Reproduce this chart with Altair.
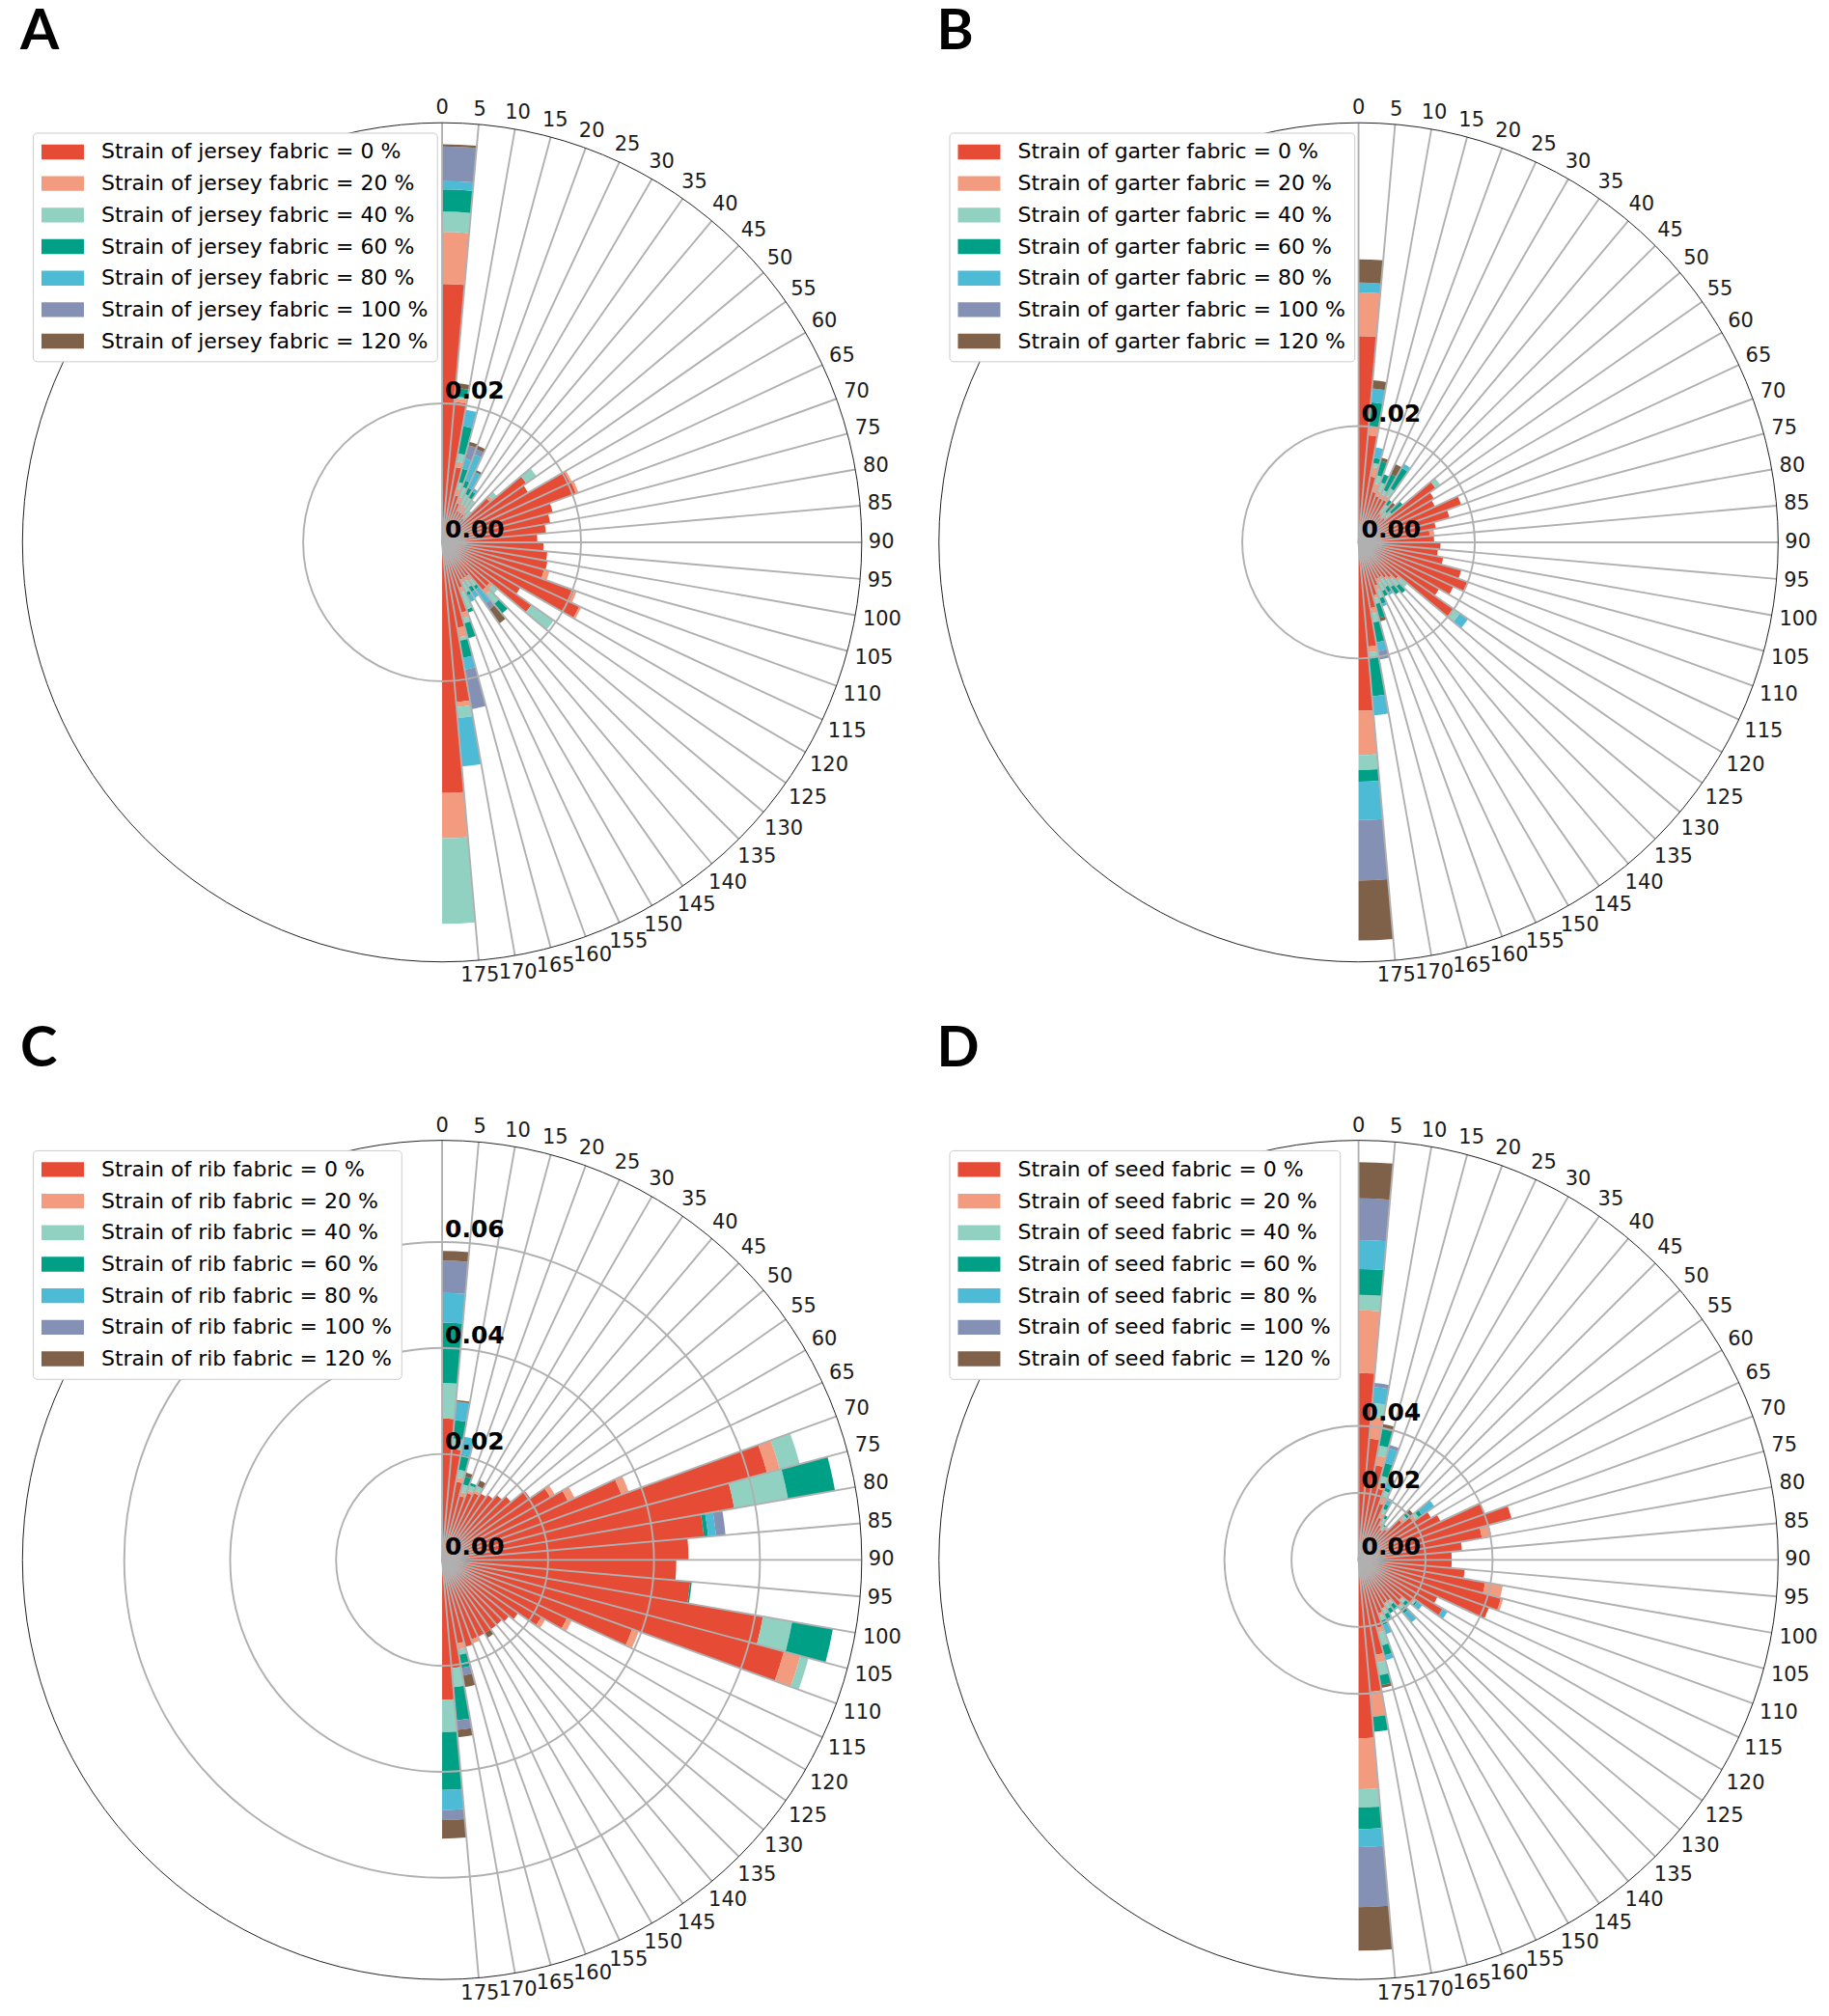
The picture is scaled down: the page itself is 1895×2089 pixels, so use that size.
import altair as alt
import numpy as np
import pandas as pd

# ---------------- data (values in units of 10^-3) ----------------
BIN_STARTS = list(range(0, 180, 5))      # bin start angle, degrees
BIN_WIDTH = 5
TICK_ANGLES = list(range(0, 180, 5))
STRAINS = [0, 20, 40, 60, 80, 100, 120]
COLORS = ["#E64B35", "#F39B7F", "#91D1C2", "#00A087", "#4DBBD5", "#8491B4", "#7E6148"]

JERSEY_0 = [37.2, 20.3, 11.0, 7.0, 6.0, 5.0, 5.0, 5.0, 4.5, 9.0, 14.8, 14.3, 20.3, 20.5, 16.5, 15.8, 15.0, 13.7,
            14.6, 15.2, 15.4, 15.2, 20.2, 21.8, 13.0, 15.7, 9.0, 9.0, 6.0, 6.0, 6.0, 7.0, 10.5, 12.5, 23.1, 36.1]
JERSEY_20 = [7.5, 0.5, 0.8, 1.0, 1.0, 1.2, 1.0, 0.5, 0.5, 0.5, 0, 0, 0.3, 0.4, 0, 0, 0, 0,
             0, 0, 0, 0.8, 0.4, 0.3, 0, 0, 0.5, 0.8, 0.8, 0.5, 0.5, 0.8, 0.8, 1.4, 0.7, 6.5]
JERSEY_40 = [2.9, 0.3, 1.2, 1.0, 1.5, 1.5, 1.5, 2.0, 1.0, 0.8, 1.8, 0, 0, 0, 0, 0, 0, 0,
             0, 0, 0, 0, 0, 0, 0, 3.9, 1.0, 1.8, 1.0, 1.0, 1.5, 2.5, 0.8, 0.5, 1.6, 12.3]
JERSEY_60 = [3.2, 1.2, 4.0, 2.0, 1.0, 1.0, 1.0, 0, 0, 0, 0, 0, 0, 0, 0, 0, 0, 0,
             0, 0, 0, 0, 0, 0, 0, 0, 0, 1.8, 0.5, 0.8, 0.5, 0.5, 2.2, 2.5, 0, 0]
JERSEY_80 = [1.2, 0, 2.4, 1.5, 4.0, 2.5, 0.5, 0, 0, 0, 0, 0, 0, 0, 0, 0, 0, 0,
             0, 0, 0, 0, 0, 0, 0, 0, 0, 0, 2.5, 1.0, 1.0, 0, 0, 1.7, 7.0, 0]
JERSEY_100 = [5.0, 0, 0, 2.0, 0.8, 0, 0, 0, 0, 0, 0, 0, 0, 0, 0, 0, 0, 0,
              0, 0, 0, 0, 0, 0, 0, 0, 0, 0, 1.0, 0, 0, 0, 0, 5.8, 0, 0]
JERSEY_120 = [0.3, 0.7, 0, 0.5, 0.5, 0.3, 0, 0, 0, 0, 0, 0, 0, 0, 0, 0, 0, 0,
              0, 0, 0, 0, 0, 0, 0, 0, 0, 0, 2.5, 0, 0, 0, 0, 0, 0, 0]

GARTER_0 = [35.5, 18.5, 11.5, 9.0, 8.5, 8.4, 8.5, 6.0, 5.5, 6.0, 16.2, 15.0, 14.5, 18.8, 16.2, 13.5, 12.3, 13.0,
            14.1, 13.7, 14.8, 18.3, 19.9, 18.0, 16.0, 19.9, 9.0, 8.0, 7.5, 7.0, 7.0, 8.0, 9.5, 11.5, 18.0, 29.0]
GARTER_20 = [7.5, 1.5, 1.7, 1.5, 1.0, 0.8, 0.8, 0.5, 0.5, 0.5, 0, 0, 0, 0, 0, 0, 0.8, 0,
             0, 0, 0, 0, 0, 0, 0, 0, 0.5, 0.5, 0.5, 0.5, 0.8, 0.8, 0.5, 1.0, 1.0, 7.6]
GARTER_40 = [0, 0, 0.7, 1.5, 1.5, 0.8, 1.5, 1.5, 1.0, 1.0, 1.0, 0, 0, 0, 0, 0, 0, 0,
             0, 0, 0, 0, 0, 0, 0, 1.4, 1.5, 1.5, 1.5, 1.5, 1.5, 1.5, 1.0, 1.5, 1.0, 2.6]
GARTER_60 = [0, 4.2, 0.9, 2.5, 1.5, 3.0, 4.0, 1.0, 1.0, 2.5, 0, 0, 0, 0, 0, 0, 0, 0,
             0, 0, 0, 0, 0, 0, 0, 0, 0, 1.5, 1.5, 1.0, 1.0, 1.0, 2.5, 3.5, 6.6, 2.0]
GARTER_80 = [1.7, 2.4, 1.8, 0, 0, 0, 0.8, 0, 0, 0, 0, 0, 0, 0, 0, 0, 0, 0,
             0, 0, 0, 0, 0, 0, 0, 1.7, 0, 0, 0, 0.5, 0, 0.5, 0, 1.5, 3.3, 6.6]
GARTER_100 = [0, 0, 0, 0, 0, 0, 0, 0, 0, 0, 0, 0, 0, 0, 0, 0, 0, 0,
              0, 0, 0, 0, 0, 0, 0, 0, 0, 0, 0, 0, 0, 0, 0, 1.5, 0, 10.4]
GARTER_120 = [4.0, 1.4, 0, 0.6, 0, 1.9, 0, 0, 1.0, 0, 0, 0, 0, 0, 0, 0, 0, 0,
              0, 0, 0, 0, 0, 0, 0, 0, 0, 0, 0, 0, 0, 0, 0.6, 0, 0, 10.3]

RIB_0 = [26.7, 21.0, 15.0, 12.5, 13.5, 14.0, 14.5, 15.0, 16.0, 17.0, 20.3, 23.6, 26.2, 36.0, 63.5, 56.0, 49.6, 46.5,
         44.2, 47.0, 61.5, 66.8, 38.2, 26.0, 21.6, 17.5, 16.5, 16.0, 16.0, 16.0, 16.0, 16.0, 17.0, 16.0, 20.5, 26.4]
RIB_20 = [0, 0, 0.8, 0.8, 0.5, 0.5, 0, 0, 0, 0, 0, 1.0, 1.4, 1.5, 2.5, 0, 0, 0,
          0, 0, 0, 3.2, 1.3, 1.0, 0.9, 0, 0, 0, 0, 0, 0, 0.8, 0, 1.2, 0, 0]
RIB_40 = [6.7, 2.0, 1.5, 1.5, 1.0, 1.0, 0, 0, 0, 0, 0, 0, 0, 0, 3.9, 10.3, 0, 0,
          0, 0, 5.6, 1.6, 0, 0, 0, 0, 0, 0, 0, 0, 0, 0, 0, 1.0, 3.6, 6.1]
RIB_60 = [11.4, 3.5, 3.0, 1.5, 0.5, 0, 0, 0, 0, 0, 0, 0, 0, 0, 0, 9.0, 0.8, 0,
          0, 0.3, 7.8, 0, 0, 0, 0, 0, 0, 0, 0, 0, 0, 0, 0, 2.5, 6.3, 10.9]
RIB_80 = [5.6, 3.5, 3.3, 0, 0, 0, 0, 0, 0, 0, 0, 0, 0, 0, 0, 0, 1.5, 0,
          0, 0, 0, 0, 0, 0, 0, 0, 0, 0, 0, 0, 0, 0, 0, 0, 0, 3.8]
RIB_100 = [6.1, 0, 0, 0, 0, 0, 0, 0, 0, 0, 0, 0, 0, 0, 0, 0, 1.8, 0,
           0, 0, 0, 0, 0, 0, 0, 0, 0, 0, 0, 0, 0, 0, 0, 1.5, 1.8, 1.9]
RIB_120 = [1.8, 0.3, 0, 0.8, 0, 1.1, 0, 0, 0, 0, 0, 0, 0, 0, 0, 0, 0, 0,
           0, 0, 0, 0, 0, 0, 0, 0, 0, 0, 0, 1.0, 0, 0, 0, 2.2, 1.4, 3.5]

SEED_0 = [55.8, 36.3, 28.7, 22.0, 18.0, 14.0, 12.0, 11.0, 12.0, 17.0, 20.0, 25.0, 27.0, 40.0, 47.3, 37.4, 31.0, 27.8,
          27.8, 31.8, 38.4, 44.0, 41.4, 26.0, 29.0, 20.0, 17.0, 18.0, 15.0, 15.0, 16.0, 17.0, 21.0, 28.8, 39.5, 53.2]
SEED_20 = [18.7, 6.7, 3.0, 2.0, 2.0, 1.5, 1.0, 0.5, 0.5, 1.0, 1.0, 0, 0, 0, 0, 2.9, 0, 0,
           0, 0, 5.3, 0.7, 0, 0, 0, 0.5, 0.5, 0.5, 0.5, 0.5, 0.5, 0.8, 1.5, 2.4, 7.5, 15.2]
SEED_40 = [4.6, 4.0, 3.0, 2.0, 2.0, 1.5, 1.5, 1.0, 0.5, 1.0, 1.0, 0, 0, 0, 0, 0, 0, 0,
           0, 0, 0, 0, 0, 0, 0, 0.5, 1.0, 1.0, 1.0, 1.5, 1.5, 1.5, 4.0, 3.8, 0, 5.5]
SEED_60 = [7.7, 0, 5.0, 4.0, 1.0, 1.5, 1.0, 0.5, 0, 1.0, 1.2, 0, 0, 0, 0, 0, 0, 0,
           0, 0, 0, 0, 0, 0, 0, 0.5, 1.0, 1.5, 1.5, 1.5, 1.5, 1.5, 3.0, 3.0, 4.5, 6.4]
SEED_80 = [8.6, 4.8, 0, 4.5, 2.0, 2.0, 0, 0, 0, 0, 4.5, 0, 0, 0, 0, 0, 0, 0,
           0, 0, 0, 0, 0, 0, 1.7, 1.8, 0.5, 3.5, 0.5, 0, 0.5, 2.8, 1.5, 0, 0, 5.4]
SEED_100 = [12.5, 1.2, 0, 1.0, 1.0, 0, 0, 0, 0, 0, 0, 0, 0, 0, 0, 0, 0, 0,
            0, 0, 0, 0, 0, 0, 0, 0, 0, 0, 0, 0, 0, 0, 0, 0, 0, 17.9]
SEED_120 = [10.8, 0, 1.5, 0, 0, 0, 0, 0, 0, 1.3, 0, 0, 0, 0, 0, 0, 0, 0,
            0, 0, 0, 0, 0, 0, 0, 0, 0, 0, 0, 0, 0, 0, 0, 0.8, 0, 13.0]

# outer radius value and radial tick values per panel
RMAX_A, RTICKS_A = 0.0604, [0.00, 0.02]
RMAX_B, RTICKS_B = 0.0722, [0.00, 0.02]
RMAX_C, RTICKS_C = 0.0792, [0.00, 0.02, 0.04, 0.06]
RMAX_D, RTICKS_D = 0.1252, [0.00, 0.02, 0.04]

# ---------------- layout / style ----------------
W, H = 930, 1020          # panel size
CX, CY = 450.3, 553.7     # polar centre inside a panel
R_PX = 435                # outer radius in px
GRID = "#b0b0b0"
FONT = "DejaVu Sans"


def stacked_table(fabric, series):
    labels = [f"Strain of {fabric} fabric = {s} %" for s in STRAINS]
    rec = []
    bottom = np.zeros(len(BIN_STARTS))
    for lab, vals in zip(labels, series):
        v = np.array(vals, dtype=float) * 1e-3
        for i, a in enumerate(BIN_STARTS):
            if v[i] > 0:
                rec.append({"label": lab, "t0": a, "t1": a + BIN_WIDTH,
                            "r0": bottom[i], "r1": bottom[i] + v[i]})
        bottom = bottom + v
    return pd.DataFrame(rec), labels


def panel(letter, fabric, series, rmax, rticks):
    df, labels = stacked_table(fabric, series)
    ppu = R_PX / rmax
    xs = alt.Scale(domain=[-CX / ppu, (W - CX) / ppu], nice=False, zero=False)
    ys = alt.Scale(domain=[-(H - CY) / ppu, CY / ppu], nice=False, zero=False)
    rs = alt.Scale(type="linear", domain=[0, rmax], range=[0, R_PX], zero=True, nice=False)
    ts = alt.Scale(domain=[0, 360], range=[0, 2 * np.pi], nice=False, zero=False)

    legend = alt.Legend(
        title=None, orient="none", legendX=26, legendY=129,
        symbolType="M-1,-0.7H3V0.7H-1Z", symbolSize=484, symbolStrokeWidth=0,
        symbolOpacity=1, labelFont=FONT, labelFontSize=22, labelColor="black",
        labelOffset=40, rowPadding=10.7, padding=9, labelLimit=600,
        strokeColor="#cccccc", fillColor="white", cornerRadius=4,
    )

    bars = alt.Chart(df).mark_arc(strokeWidth=0).encode(
        x=alt.value(CX), y=alt.value(CY),
        theta=alt.Theta("t0:Q", scale=ts, stack=None),
        theta2=alt.Theta2("t1:Q"),
        radius=alt.Radius("r1:Q", scale=rs, stack=None),
        radius2=alt.Radius2("r0:Q"),
        color=alt.Color("label:N", scale=alt.Scale(domain=labels, range=COLORS), legend=legend),
    )

    sp = pd.DataFrame({"a": TICK_ANGLES})
    rad = np.deg2rad(sp["a"].astype(float))
    sp["x0"] = 0.0
    sp["y0"] = 0.0
    sp["x1"] = rmax * np.sin(rad)
    sp["y1"] = rmax * np.cos(rad)
    nchar = sp["a"].astype(str).str.len()
    off = 7 + np.abs(np.sin(rad)) * nchar * 6.7 + np.abs(np.cos(rad)) * 7.7
    rl = rmax + off / ppu
    sp["lx"] = rl * np.sin(rad)
    sp["ly"] = rl * np.cos(rad)
    sp["txt"] = sp["a"].astype(str)

    spokes = alt.Chart(sp).mark_rule(color=GRID, strokeWidth=1.9).encode(
        x=alt.X("x0:Q", scale=xs, axis=None),
        y=alt.Y("y0:Q", scale=ys, axis=None),
        x2="x1:Q", y2="y1:Q",
    )

    rg = pd.DataFrame({"v": [t for t in rticks if t > 0], "t0": 0, "t1": 360})
    rings = alt.Chart(rg).mark_arc(fillOpacity=0, stroke=GRID, strokeWidth=1.9).encode(
        x=alt.value(CX), y=alt.value(CY),
        theta=alt.Theta("t0:Q", scale=ts, stack=None), theta2="t1:Q",
        radius=alt.Radius("v:Q", scale=rs, stack=None),
    )

    og = pd.DataFrame({"v": [rmax], "t0": 0, "t1": 360})
    outer = alt.Chart(og).mark_arc(fillOpacity=0, stroke="#222222", strokeWidth=1).encode(
        x=alt.value(CX), y=alt.value(CY),
        theta=alt.Theta("t0:Q", scale=ts, stack=None), theta2="t1:Q",
        radius=alt.Radius("v:Q", scale=rs, stack=None),
    )

    tlabels = alt.Chart(sp).mark_text(font=FONT, fontSize=21, color="#1a1a1a",
                                      align="center", baseline="middle").encode(
        x=alt.X("lx:Q", scale=xs, axis=None),
        y=alt.Y("ly:Q", scale=ys, axis=None),
        text="txt:N",
    )

    rdf = pd.DataFrame({"v": rticks, "x0": 0.0, "txt": [f"{t:.2f}" for t in rticks]})
    rlabels = alt.Chart(rdf).mark_text(font=FONT, fontSize=25, fontWeight="bold", color="black",
                                       align="left", baseline="alphabetic", dx=3, dy=-5).encode(
        x=alt.X("x0:Q", scale=xs, axis=None),
        y=alt.Y("v:Q", scale=ys, axis=None),
        text="txt:N",
    )

    let = alt.Chart(pd.DataFrame({"t": [letter]})).mark_text(
        font="Lato", fontSize=58, fontWeight="bold", color="black",
        align="left", baseline="alphabetic", clip=True).encode(
        x=alt.value(13), y=alt.value(42.5), text="t:N")

    return alt.layer(bars, spokes, rings, outer, tlabels, rlabels, let).properties(
        width=W, height=H, view=alt.ViewBackground(stroke=None, strokeOpacity=0))


pA = panel("A", "jersey", [JERSEY_0, JERSEY_20, JERSEY_40, JERSEY_60, JERSEY_80, JERSEY_100, JERSEY_120],
           RMAX_A, RTICKS_A)
pB = panel("B", "garter", [GARTER_0, GARTER_20, GARTER_40, GARTER_60, GARTER_80, GARTER_100, GARTER_120],
           RMAX_B, RTICKS_B)
pC = panel("C", "rib", [RIB_0, RIB_20, RIB_40, RIB_60, RIB_80, RIB_100, RIB_120],
           RMAX_C, RTICKS_C)
pD = panel("D", "seed", [SEED_0, SEED_20, SEED_40, SEED_60, SEED_80, SEED_100, SEED_120],
           RMAX_D, RTICKS_D)

IND = dict(x="independent", y="independent", theta="independent",
           radius="independent", color="independent")

top = alt.hconcat(pA, pB, spacing=20).resolve_scale(**IND).resolve_legend(color="independent")
bottom = alt.hconcat(pC, pD, spacing=20).resolve_scale(**IND).resolve_legend(color="independent")

chart = (
    alt.vconcat(top, bottom, spacing=35)
    .resolve_scale(**IND)
    .resolve_legend(color="independent")
    .properties(padding=0)
    .configure_view(stroke=None, strokeOpacity=0)
    .configure(font=FONT)
)

chart.save("out.html", embed_options={"renderer": "svg", "actions": False})
